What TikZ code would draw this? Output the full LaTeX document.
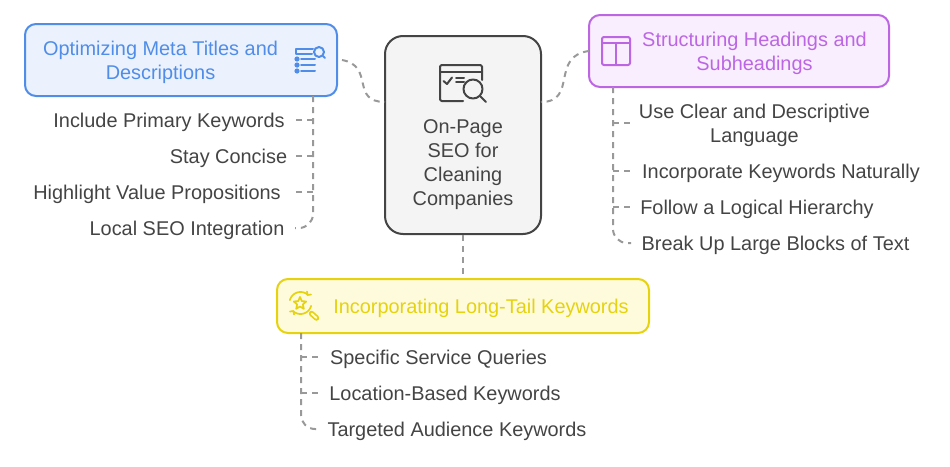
\documentclass[tikz,border=0pt]{standalone}
\usepackage{fontspec}
\setmainfont{Liberation Sans}
\definecolor{txt}{HTML}{444444}
\definecolor{conn}{HTML}{999999}
\definecolor{blueD}{HTML}{4F8DE8}
\definecolor{blueL}{HTML}{EBF2FE}
\definecolor{purD}{HTML}{BC66E4}
\definecolor{purL}{HTML}{F9EEFE}
\definecolor{yelD}{HTML}{E6D20F}
\definecolor{yelL}{HTML}{FEFBDC}
\definecolor{cenD}{HTML}{444444}
\definecolor{cenL}{HTML}{F4F4F4}
\tikzset{
  boxn/.style={rounded corners=11pt,line width=2pt,inner sep=0pt},
  lab/.style={text=txt,font=\fontsize{19.9}{24}\selectfont,align=center,inner sep=0pt},
  ttl/.style={font=\fontsize{19.9}{24}\selectfont,align=center,inner sep=0pt},
  conline/.style={draw=conn,line width=2pt,dash pattern=on 6pt off 5pt},
  ico/.style={line width=2pt,line cap=round,line join=round}
}
\begin{document}
\begin{tikzpicture}[x=1pt,y=-1pt]
\useasboundingbox (0,0) rectangle (950,466);
% boxes
\node[boxn,draw=blueD,fill=blueL,minimum width=312pt,minimum height=72pt] (blue) at (181,60) {};
\node[boxn,draw=purD,fill=purL,minimum width=300pt,minimum height=72pt] (pur) at (739,51) {};
\node[boxn,draw=yelD,fill=yelL,minimum width=372pt,minimum height=54pt] (yel) at (463,306) {};
\node[boxn,rounded corners=18pt,draw=cenD,fill=cenL,minimum width=156pt,minimum height=198pt] (cen) at (463,135) {};
% titles
\node[ttl,text=blueD] (tb) at (160.5,62) {Optimizing Meta Titles and\\Descriptions};
\node[ttl,text=purD] (tp) at (754.5,53) {Structuring Headings and\\Subheadings};
\node[ttl,text=yelD] (ty) at (481,308) {Incorporating Long-Tail Keywords};
\node[lab] (tc) at (463,165) {On-Page\\SEO for\\Cleaning\\Companies};
% labels
\node[lab] (b1) at (169,122) {Include Primary Keywords};
\node[lab] (b2) at (228.5,158) {Stay Concise};
\node[lab] (b3) at (157,194) {Highlight Value Propositions};
\node[lab] (b4) at (187,230) {Local SEO Integration};
\node[lab] (p1) at (754.5,125) {Use Clear and Descriptive\\Language};
\node[lab] (p2) at (781,173) {Incorporate Keywords Naturally};
\node[lab] (p3) at (757,209) {Follow a Logical Hierarchy};
\node[lab] (p4) at (775.5,245) {Break Up Large Blocks of Text};
\node[lab] (y1) at (438.5,359) {Specific Service Queries};
\node[lab] (y2) at (445,395) {Location-Based Keywords};
\node[lab] (y3) at (457,431) {Targeted Audience Keywords};
% main connectors
\coordinate (blueout) at (342,60);
\coordinate (cenLe) at (385,102);
\coordinate (cenRi) at (541,102);
\coordinate (purout) at (589,51);
\draw[conline] (blueout) .. controls (375,66) and (350,102) .. (cenLe);
\draw[conline] (purout) .. controls (550,56) and (578,102) .. (cenRi);
\draw[conline] (cen.south) -- (yel.north);
% trees
\coordinate (bt) at (313,96);
\coordinate (pt) at (613,87);
\coordinate (yt) at (301,333);
\coordinate (b1e) at (295,120);
\coordinate (b2e) at (295,156);
\coordinate (b3e) at (295,192);
\coordinate (b4e) at (295,228);
\coordinate (p1e) at (631,123);
\coordinate (p2e) at (631,171);
\coordinate (p3e) at (631,207);
\coordinate (p4e) at (631,243);
\coordinate (y1e) at (320,357);
\coordinate (y2e) at (320,393);
\coordinate (y3e) at (320,429);
\draw[conline,rounded corners=14pt] (bt) |- (b4e);
\draw[conline] (bt |- b1e) -- (b1e);
\draw[conline] (bt |- b2e) -- (b2e);
\draw[conline] (bt |- b3e) -- (b3e);
\draw[conline,rounded corners=14pt] (pt) |- (p4e);
\draw[conline] (pt |- p1e) -- (p1e);
\draw[conline] (pt |- p2e) -- (p2e);
\draw[conline] (pt |- p3e) -- (p3e);
\draw[conline,rounded corners=14pt] (yt) |- (y3e);
\draw[conline] (yt |- y1e) -- (y1e);
\draw[conline] (yt |- y2e) -- (y2e);
% blue icon
\begin{scope}[ico,draw=blueD]
\draw (312,54) -- (295.5,54) -- (295.5,48.5) -- (313,48.5);
\fill[blueD] (297,59) circle (2.6pt) (297,65) circle (2.6pt) (297,71) circle (2.6pt);
\draw (301,59) -- (315,59);
\draw (301,65) -- (315,65);
\draw (301,71) -- (315,71);
\draw (319,52) circle (5pt);
\draw (323,56) -- (325,58);
\end{scope}
% purple icon
\begin{scope}[ico,draw=purD]
\draw[rounded corners=2pt] (602,37) rectangle (630,65);
\draw (602,43) -- (630,43);
\draw (616,43) -- (616,65);
\end{scope}
% centre icon
\begin{scope}[ico,draw=cenD]
\draw[rounded corners=1.5pt] (463,101) -- (440,101) -- (440,65) -- (482,65) -- (482,80);
\draw (440,72) -- (482,72);
\draw (443.5,81) -- (447,84) -- (452,77.5);
\draw (456,78) -- (464,78);
\draw (456,82) -- (464,82);
\draw (473,89) circle (9.5pt);
\draw (480,96) -- (486,102);
\end{scope}
% yellow icon
\begin{scope}[ico,draw=yelD,line width=1.7pt]
\draw plot[smooth,samples=14,domain=165:50] ({300.5+11*cos(\x)},{303-11*sin(\x)});
\draw plot[smooth,samples=14,domain=-15:-130] ({300.5+11*cos(\x)},{303-11*sin(\x)});
\draw (307,291.5) -- (307.5,295) -- (311,294.5);
\draw (294,314.5) -- (293.5,311) -- (290,311.5);
\draw (300,297) -- (301.8,301.1) -- (306.2,301.5) -- (302.9,304.4) -- (303.8,308.8) -- (300,306.5) -- (296.2,308.8) -- (297.1,304.4) -- (293.8,301.5) -- (298.2,301.1) -- cycle;
\draw[line width=5.5pt] (311.5,313.5) -- (316.5,318);
\draw[yelL,line width=2pt] (311.5,313.5) -- (316.5,318);
\end{scope}
\end{tikzpicture}
\end{document}
